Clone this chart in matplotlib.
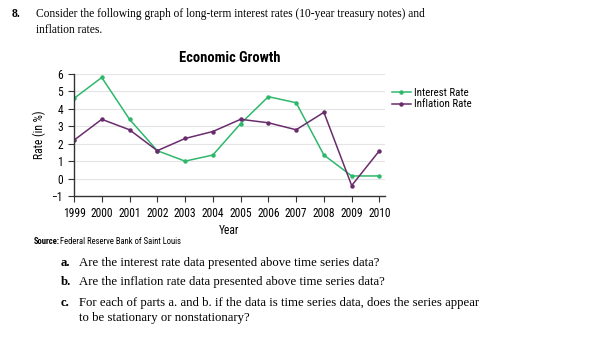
import matplotlib.pyplot as plt
from matplotlib import font_manager

# Data
years = [1999, 2000, 2001, 2002, 2003, 2004, 2005, 2006, 2007, 2008, 2009, 2010]
interest_rate = [4.6, 5.8, 3.4, 1.6, 1.0, 1.35, 3.15, 4.7, 4.35, 1.35, 0.15, 0.15]
inflation_rate = [2.2, 3.4, 2.8, 1.6, 2.3, 2.7, 3.4, 3.2, 2.8, 3.8, -0.4, 1.6]
y_ticks = [-1, 0, 1, 2, 3, 4, 5, 6]
y_tick_labels = ['\u22121', '0', '1', '2', '3', '4', '5', '6']

GREEN = '#2fb86c'
PURPLE = '#6a2c6c'
SERIF = 'Liberation Serif'

# pick a narrow sans if one is installed
names = {f.name for f in font_manager.fontManager.ttflist}
NARROW = 'DejaVu Sans'
for cand in ['Liberation Sans Narrow', 'Roboto Condensed', 'DejaVu Sans Condensed']:
    if cand in names:
        NARROW = cand
        break
else:
    others = sorted(n for n in names if 'Narrow' in n or 'Condensed' in n)
    if others:
        NARROW = others[0]

fig = plt.figure(figsize=(6.12, 3.53), dpi=100)
ax = fig.add_axes([74 / 612, 1 - 196 / 353, (385 - 74) / 612, (196 - 74) / 353])

ax.plot(years, interest_rate, color=GREEN, marker='o', markersize=2.2, linewidth=1.1,
        label='Interest Rate')
ax.plot(years, inflation_rate, color=PURPLE, marker='o', markersize=2.2, linewidth=1.1,
        label='Inflation Rate')

small = dict(family=NARROW, size=8.3)
ax.set_xlim(1999, 2010.2)
ax.set_ylim(-1, 6)
ax.set_yticks(y_ticks)
ax.set_yticklabels(y_tick_labels, fontdict=small)
ax.set_xticks(years)
ax.set_xticklabels([str(y) for y in years], fontdict=small)
ax.tick_params(axis='both', length=4, width=0.8, color='#333333', pad=4)
for g in y_ticks[1:]:
    ax.axhline(g, color='#e4e4e4', linewidth=0.8, zorder=0)

for side in ['top', 'right']:
    ax.spines[side].set_visible(False)
for side in ['left', 'bottom']:
    ax.spines[side].set_color('#333333')
    ax.spines[side].set_linewidth(1.0)

ax.set_title('Economic Growth', fontdict=dict(family=NARROW, weight='bold', size=10.5), pad=9)
ax.set_xlabel('Year', fontdict=small, labelpad=3)
ax.set_ylabel('Rate (in %)', fontdict=small, labelpad=4)

leg = ax.legend(loc='upper left', bbox_to_anchor=(1.0, 0.94), frameon=False,
                prop=font_manager.FontProperties(family=NARROW, size=7.8),
                handlelength=1.8, handletextpad=0.3, labelspacing=0.15, borderaxespad=0.2)

# Surrounding question text
fig.text(12 / 612, 1 - 14 / 353, '8.', fontfamily=SERIF, fontweight='bold', fontsize=8.5, va='center')
fig.text(36 / 612, 1 - 14 / 353,
         'Consider the following graph of long-term interest rates (10-year treasury notes) and',
         fontfamily=SERIF, fontsize=8.3, va='center')
fig.text(36 / 612, 1 - 30 / 353, 'inflation rates.', fontfamily=SERIF, fontsize=8.3, va='center')

fig.text(34 / 612, 1 - 242 / 353, 'Source:', family=NARROW, fontweight='bold',
         fontsize=6.2, va='center')
fig.text(60 / 612, 1 - 242 / 353, 'Federal Reserve Bank of Saint Louis', family=NARROW,
         fontsize=6.2, va='center')

questions = [
    ('a.', 263, 'Are the interest rate data presented above time series data?'),
    ('b.', 282, 'Are the inflation rate data presented above time series data?'),
    ('c.', 303, 'For each of parts a. and b. if the data is time series data, does the series appear'),
]
for letter, ypix, text in questions:
    fig.text(61 / 612, 1 - ypix / 353, letter, fontfamily=SERIF, fontweight='bold', fontsize=9.2, va='center')
    fig.text(79 / 612, 1 - ypix / 353, text, fontfamily=SERIF, fontsize=9.2, va='center')
fig.text(79 / 612, 1 - 318 / 353, 'to be stationary or nonstationary?', fontfamily=SERIF,
         fontsize=9.2, va='center')

fig.savefig('out.png', dpi=100)
